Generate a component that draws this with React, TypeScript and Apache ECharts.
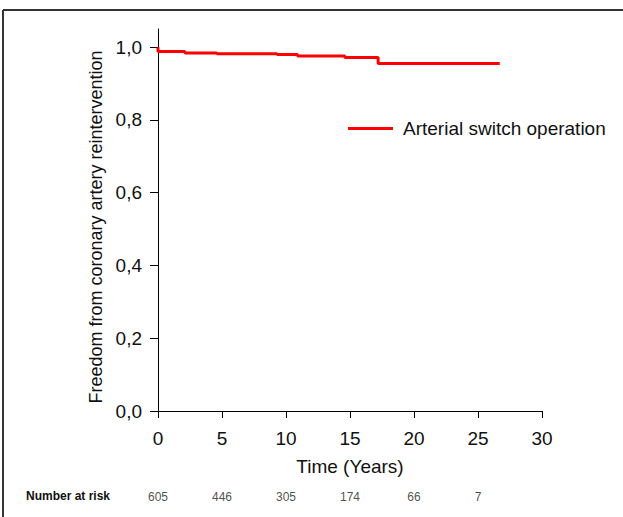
import React, { useEffect, useRef } from "react";
import * as echarts from "echarts";

const curveYears = [0, 0, 2.1, 4.6, 9.3, 10.9, 14.6, 17.2, 26.7];
const curveValues = [1.0, 0.988, 0.984, 0.982, 0.98, 0.976, 0.972, 0.955, 0.955];
const riskYears = [0, 5, 10, 15, 20, 25];
const riskCounts = [605, 446, 305, 174, 66, 7];
const yTicks = [0, 0.2, 0.4, 0.6, 0.8, 1.0];
const seriesName = "Arterial switch operation";

const FONT = "Liberation Sans, Arial, sans-serif";

export default function App() {
  const ref = useRef<HTMLDivElement>(null);
  useEffect(() => {
    if (!ref.current) return;
    const chart = echarts.init(ref.current, null, { renderer: "svg" });
    const fmt = (v: number) => v.toFixed(1).replace(".", ",");
    chart.setOption({
      animation: false,
      backgroundColor: "#fff",
      textStyle: { fontFamily: FONT },
      legend: {
        left: 343,
        top: 114,
        icon: "rect",
        itemWidth: 45,
        itemHeight: 3,
        data: [seriesName],
        textStyle: { fontSize: 19, color: "#111", fontFamily: FONT, padding: [0, 0, 0, 5] },
      },
      grid: [
        { left: 158, right: 81, top: 29, bottom: 106 },
        { left: 158, right: 81, top: 488, height: 18 },
      ],
      xAxis: [
        {
          type: "value",
          min: 0,
          max: 30,
          interval: 5,
          name: "Time (Years)",
          nameLocation: "middle",
          nameGap: 46,
          nameTextStyle: { fontSize: 19, color: "#111", fontFamily: FONT },
          axisLine: { show: true, lineStyle: { color: "#000", width: 1 } },
          axisTick: { show: true, length: 7, lineStyle: { color: "#000" } },
          axisLabel: { fontSize: 19, color: "#111", margin: 18, fontFamily: FONT },
          splitLine: { show: false },
        },
        { type: "value", gridIndex: 1, min: 0, max: 30, show: false },
      ],
      yAxis: [
        {
          type: "value",
          min: 0,
          max: 1.05,
          name: "Freedom from coronary artery reintervention",
          nameLocation: "middle",
          nameGap: 50,
          nameTextStyle: { fontSize: 18, color: "#111", fontFamily: FONT, padding: [0, 14, 0, 0] },
          axisLine: { show: true, lineStyle: { color: "#000", width: 1 } },
          axisTick: { show: true, length: 8, customValues: yTicks, lineStyle: { color: "#000" } },
          axisLabel: {
            fontSize: 19,
            color: "#111",
            margin: 16,
            customValues: yTicks,
            formatter: (v: number) => fmt(v),
            fontFamily: FONT,
          },
          splitLine: { show: false },
        },
        { type: "value", gridIndex: 1, min: -1, max: 1, show: false },
      ],
      series: [
        {
          name: seriesName,
          type: "line",
          step: "end",
          showSymbol: false,
          symbol: "none",
          data: curveYears.map((x, i) => [x, curveValues[i]]),
          lineStyle: { color: "#ff0000", width: 3 },
          itemStyle: { color: "#ff0000" },
        },
        {
          type: "scatter",
          xAxisIndex: 1,
          yAxisIndex: 1,
          symbolSize: 0,
          data: riskYears.map((x, i) => [x, 0, riskCounts[i]]),
          label: {
            show: true,
            position: "inside",
            formatter: (p: any) => String(p.value[2]),
            fontSize: 12,
            color: "#222",
            fontFamily: FONT,
          },
          silent: true,
        },
      ],
      graphic: [
        { type: "line", shape: { x1: 3, y1: 10, x2: 623, y2: 10 }, style: { stroke: "#333", lineWidth: 2 } },
        { type: "line", shape: { x1: 3, y1: 10, x2: 3, y2: 517 }, style: { stroke: "#333", lineWidth: 2 } },
        {
          type: "text",
          left: 26,
          top: 490,
          style: { text: "Number at risk", font: "bold 12px Liberation Sans, Arial, sans-serif", fill: "#111" },
        },
      ],
    });
    return () => chart.dispose();
  }, []);
  return (
    <div
      ref={ref}
      style={{ position: "fixed", left: 0, top: 0, width: 623, height: 517, background: "#fff" }}
    />
  );
}
